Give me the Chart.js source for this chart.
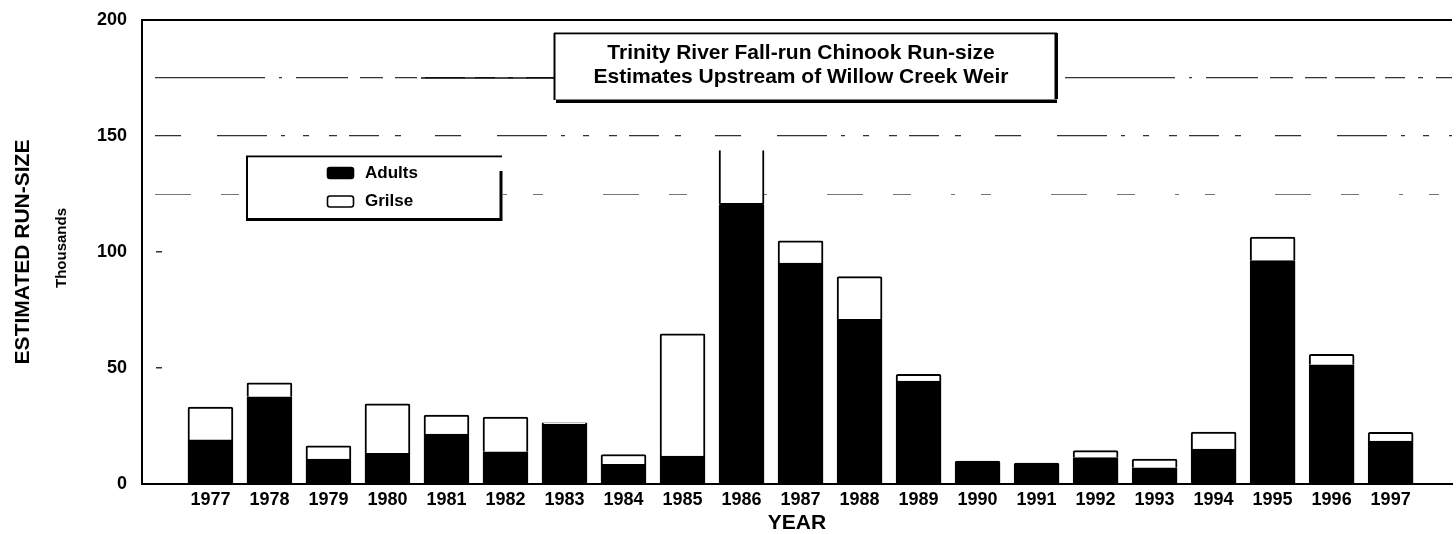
<!DOCTYPE html>
<html lang="en">
<head>
<meta charset="utf-8">
<title>Trinity River Fall-run Chinook Run-size</title>
<script src="https://cdn.jsdelivr.net/npm/chart.js@4.4.1/dist/chart.umd.min.js"></script>
<style>
  html, body { margin: 0; padding: 0; background: #fff; }
  #grafico { display: block; }
</style>
</head>
<body>
<canvas id="grafico" width="1456" height="534"></canvas>
<script>
// ======================================================
// 1. DADOS (em milhares)
// ======================================================

const anos = [1977, 1978, 1979, 1980, 1981, 1982, 1983, 1984, 1985, 1986, 1987,
              1988, 1989, 1990, 1991, 1992, 1993, 1994, 1995, 1996, 1997];
const adultos = [19.0, 37.6, 10.7, 13.2, 21.5, 13.9, 25.8, 8.5, 12.0, 120.4, 95.2,
                 71.0, 44.4, 9.9, 9.0, 11.4, 7.0, 15.1, 96.3, 51.4, 18.5];
const grilse = [14.2, 6.0, 5.7, 21.4, 8.2, 14.9, 0.6, 4.2, 52.7, 23.5, 9.6,
                18.4, 2.9, 0, 0, 3.0, 3.7, 7.3, 10.1, 4.5, 3.8];
const ticksY = [0, 50, 100, 150, 200];
const linhasTitulo = ['Trinity River Fall-run Chinook Run-size',
                      'Estimates Upstream of Willow Creek Weir'];

const FONTE = "'Liberation Sans', Arial, Helvetica, sans-serif";

// estilo das linhas de grade (imitam as linhas falhadas do original)
function estiloGrade(valor) {
  if (valor === 200) return { cor: '#000', largura: 2, traco: [] };
  if (valor === 175) return { cor: '#333', largura: 1.2, traco: [0, 12, 110, 14, 3, 14, 52, 12, 23, 12, 22, 8, 40, 10, 20, 13, 5, 13, 60, 12] };
  if (valor === 150) return { cor: '#333', largura: 1.2, traco: [0, 12, 26, 36, 50, 14, 4, 18, 6, 20, 8, 12, 30, 16, 6, 22] };
  if (valor === 125) return { cor: '#777', largura: 1, traco: [0, 12, 36, 30, 18, 40, 4, 26, 10, 48] };
  if (valor === 100 || valor === 50) return { cor: '#333', largura: 1.4, traco: [0, 13, 6, 3000] };
  return { cor: 'rgba(0,0,0,0)', largura: 1, traco: [] };
}

// ======================================================
// 2. PLUGIN: CAIXA DO TÍTULO, LEGENDA E "Thousands"
// ======================================================

const caixasPlugin = {
  id: 'caixas',
  afterDraw(chart) {
    const ctx = chart.ctx;
    const area = chart.chartArea;
    const y175 = chart.scales.y.getPixelForValue(175);
    ctx.save();

    // texto secundário do eixo Y
    ctx.save();
    ctx.translate(62, (area.top + area.bottom) / 2 - 4);
    ctx.rotate(-Math.PI / 2);
    ctx.fillStyle = '#000';
    ctx.font = 'bold 15px ' + FONTE;
    ctx.textAlign = 'center';
    ctx.textBaseline = 'middle';
    ctx.fillText('Thousands', 0, 0);
    ctx.restore();

    // caixa do título (com linha que liga à grade de 175)
    ctx.fillStyle = '#000';
    ctx.fillRect(421, y175 - 0.7, 134, 1.4);
    ctx.fillStyle = '#fff';
    ctx.fillRect(555, 34, 501, 66);
    ctx.fillStyle = '#000';
    ctx.fillRect(554, 32.5, 503, 1.8);
    ctx.fillRect(553.5, 33, 2, 67);
    ctx.fillRect(1054.5, 33, 3.5, 66);
    ctx.fillRect(556, 99.5, 501, 3.5);

    ctx.font = 'bold 21px ' + FONTE;
    ctx.textAlign = 'center';
    ctx.textBaseline = 'middle';
    ctx.fillText(linhasTitulo[0], 801, 53);
    ctx.fillText(linhasTitulo[1], 801, 77);

    // legenda
    ctx.fillStyle = '#fff';
    ctx.fillRect(247, 157, 253, 62);
    ctx.fillStyle = '#000';
    ctx.fillRect(246, 155.5, 256, 1.8);
    ctx.fillRect(246, 156, 2, 64);
    ctx.fillRect(499.5, 171, 3, 50);
    ctx.fillRect(246, 218, 256, 3);

    const posY = [173, 201.5];
    chart.data.datasets.forEach((ds, i) => {
      const yc = posY[i];
      ctx.beginPath();
      ctx.roundRect(327.5, yc - 5.5, 26, 11, 2.5);
      ctx.fillStyle = ds.backgroundColor;
      ctx.fill();
      ctx.lineWidth = 1.6;
      ctx.strokeStyle = ds.borderColor;
      ctx.stroke();
      ctx.fillStyle = '#000';
      ctx.font = 'bold 17px ' + FONTE;
      ctx.textAlign = 'left';
      ctx.textBaseline = 'middle';
      ctx.fillText(ds.label, 365, yc);
    });

    ctx.restore();
  }
};

// ======================================================
// 3. GRÁFICO DE BARRAS EMPILHADAS
// ======================================================

function montarGrafico() {
  const ctx = document.getElementById('grafico');
  if (!ctx) return;

  new Chart(ctx, {
    type: 'bar',
    data: {
      datasets: [
        {
          label: 'Adults',
          data: anos.map((a, i) => ({ x: a, y: adultos[i] })),
          backgroundColor: '#000',
          borderColor: '#000',
          borderWidth: 1,
          borderRadius: 2,
          barThickness: 45
        },
        {
          label: 'Grilse',
          data: anos.map((a, i) => ({ x: a, y: grilse[i] })),
          backgroundColor: '#fff',
          borderColor: '#000',
          borderWidth: 2,
          borderRadius: 2,
          borderSkipped: c => (anos[c.dataIndex] === 1986 ? 'top' : 'start'),
          barThickness: 45
        }
      ]
    },
    options: {
      responsive: false,
      animation: false,
      layout: { padding: { top: 20, right: 4, left: 0, bottom: 0 } },
      plugins: {
        legend: { display: false },
        tooltip: { enabled: false }
      },
      scales: {
        x: {
          type: 'linear',
          stacked: true,
          offset: false,
          min: 1975.84,
          max: 1998.04,
          afterBuildTicks: s => { s.ticks = anos.map(v => ({ value: v })); },
          afterFit: s => { s.height = 50; },
          grid: { display: false },
          border: { display: true, color: '#000', width: 2 },
          ticks: {
            autoSkip: false,
            maxRotation: 0,
            padding: -3,
            color: '#000',
            font: { family: FONTE, size: 18, weight: 'bold' },
            callback: v => String(v)
          },
          title: {
            display: true,
            text: 'YEAR',
            color: '#000',
            font: { family: FONTE, size: 21, weight: 'bold', lineHeight: 1 },
            padding: { top: 0, bottom: 0 }
          }
        },
        y: {
          stacked: true,
          min: 0,
          max: 200,
          afterBuildTicks: s => {
            const t = [];
            for (let v = 0; v <= 200; v += 25) t.push({ value: v });
            s.ticks = t;
          },
          afterFit: s => { s.width = 142; },
          grid: {
            drawTicks: false,
            color: c => estiloGrade(c.tick.value).cor,
            lineWidth: c => estiloGrade(c.tick.value).largura
          },
          border: {
            display: true,
            color: '#000',
            width: 2,
            dash: c => (c.tick ? estiloGrade(c.tick.value).traco : [])
          },
          ticks: {
            padding: 15,
            color: '#000',
            font: { family: FONTE, size: 18, weight: 'bold', lineHeight: 0.5 },
            callback: v => (ticksY.includes(v) ? String(v) : '')
          },
          title: {
            display: true,
            text: 'ESTIMATED RUN-SIZE',
            color: '#000',
            font: { family: FONTE, size: 21, weight: 'bold' },
            padding: { top: 11, bottom: 0 }
          }
        }
      }
    },
    plugins: [caixasPlugin]
  });
}

montarGrafico();
</script>
</body>
</html>
